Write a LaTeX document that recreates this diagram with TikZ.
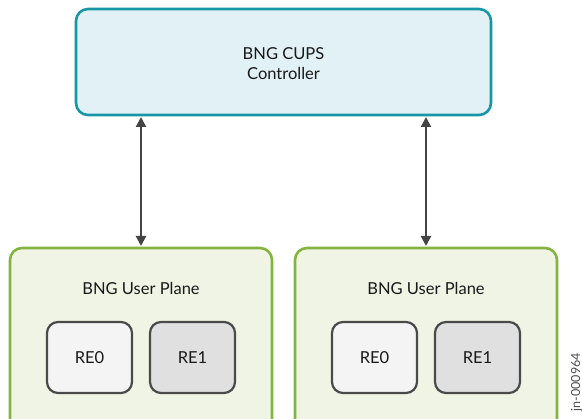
\documentclass[tikz,border=0pt]{standalone}
\usepackage{fontspec}
\setmainfont{Lato}
\usetikzlibrary{arrows.meta}
\definecolor{ctrlline}{HTML}{1797A6}
\definecolor{ctrlfill}{HTML}{E1F1F5}
\definecolor{upline}{HTML}{84B440}
\definecolor{upfill}{HTML}{EFF4E4}
\definecolor{reline}{HTML}{4A4A4A}
\definecolor{rezero}{HTML}{F4F4F4}
\definecolor{reone}{HTML}{E0E0E0}
\definecolor{arrowcol}{HTML}{444444}
\tikzset{
  ctrlbox/.style={draw=ctrlline, fill=ctrlfill, line width=2.6pt, rounded corners=12pt},
  upbox/.style={draw=upline, fill=upfill, line width=2.6pt, rounded corners=12pt},
  rebox/.style={draw=reline, line width=2.2pt, rounded corners=11pt},
  lbl/.style={font=\fontsize{16.5}{20}\selectfont, text=black!90, align=center},
  link/.style={draw=arrowcol, line width=2.2pt, {Triangle[width=10pt,length=10pt]}-{Triangle[width=10pt,length=10pt]}},
}
\begin{document}
\begin{tikzpicture}[x=1pt,y=-1pt]
\useasboundingbox (0,0) rectangle (582,419);
\begin{scope}
\clip (0,0) rectangle (582,419);
% controller
\draw[ctrlbox] (76,9) rectangle (491,115);
\node[lbl] (ctrl) at (283.5,64) {BNG CUPS\\Controller};
\coordinate (ctrlL) at (141,117);
\coordinate (ctrlR) at (426,117);
% user planes
\draw[upbox] (10,248) rectangle (272,440);
\draw[upbox] (295,248) rectangle (557,440);
\coordinate (upL) at (141,246);
\coordinate (upR) at (426,246);
\node[lbl] (upLt) at (141,288) {BNG User Plane};
\node[lbl] (upRt) at (426,288) {BNG User Plane};
% REs left
\draw[rebox, fill=rezero] (47,322) rectangle (132,393);
\node[lbl] (l0) at (89.5,357.5) {RE0};
\draw[rebox, fill=reone] (150,322) rectangle (235,393);
\node[lbl] (l1) at (192.5,357.5) {RE1};
% REs right
\draw[rebox, fill=rezero] (332,322) rectangle (417,393);
\node[lbl] (r0) at (374.5,357.5) {RE0};
\draw[rebox, fill=reone] (435,322) rectangle (520,393);
\node[lbl] (r1) at (477.5,357.5) {RE1};
% arrows
\draw[link] (ctrlL) -- (upL);
\draw[link] (ctrlR) -- (upR);
% id
\node[font=\fontsize{12.5}{13}\selectfont, text=black!70, rotate=90, anchor=base east, inner sep=0pt] (id) at (580,353) {jn-000964};
\end{scope}
\end{tikzpicture}
\end{document}
